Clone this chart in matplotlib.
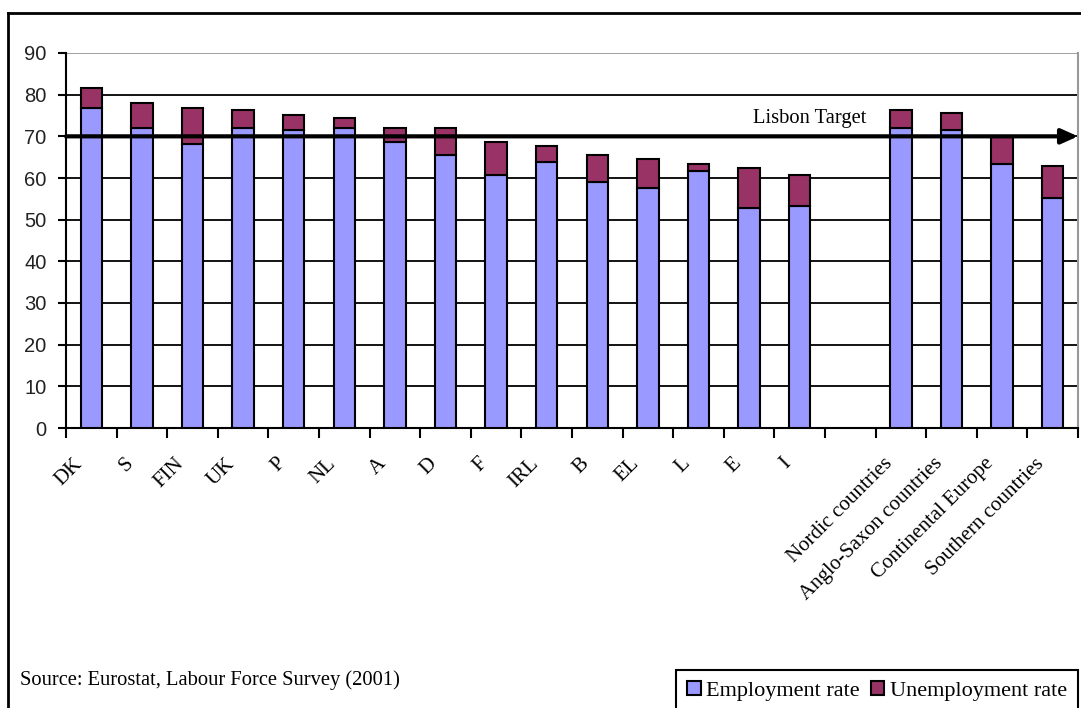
import matplotlib
matplotlib.use('Agg')

import numpy as np
import matplotlib.pyplot as plt
import matplotlib.transforms as mtransforms
from matplotlib.lines import Line2D
from matplotlib.patches import Patch

# Categories (empty slot between countries and country groups)
countries = ['DK', 'S', 'FIN', 'UK', 'P', 'NL', 'A', 'D', 'F', 'IRL',
             'B', 'EL', 'L', 'E', 'I']
groups = ['Nordic countries', 'Anglo-Saxon countries',
          'Continental Europe', 'Southern countries']

# Employment rate (%)
emp_countries = [76.8, 72.0, 68.1, 72.0, 71.5, 72.0, 68.6, 65.5, 60.7, 63.9,
                 59.0, 57.6, 61.8, 52.9, 53.3]
emp_groups = [72.0, 71.5, 63.4, 55.3]

# Employment + unemployment (top of stacked bar)
total_countries = [81.7, 78.0, 76.9, 76.3, 75.2, 74.3, 72.0, 71.9, 68.7, 67.7,
                   65.5, 64.5, 63.4, 62.3, 60.7]
total_groups = [76.3, 75.7, 69.9, 62.9]

lisbon_target = 70
yticks = [0, 10, 20, 30, 40, 50, 60, 70, 80, 90]

serif = 'Liberation Serif'
c_emp = '#9999FF'
c_unemp = '#993366'

labels = countries + [''] + groups
emp = np.array(emp_countries + [np.nan] + emp_groups)
total = np.array(total_countries + [np.nan] + total_groups)
unemp = total - emp
x = np.arange(len(labels))
mask = ~np.isnan(emp)

fig = plt.figure(figsize=(10.81, 7.08), dpi=100)
ax = fig.add_axes([66 / 1081, 1 - 428 / 708, (1078 - 66) / 1081, (428 - 53) / 708])

ax.bar(x[mask], emp[mask], width=0.42, color=c_emp, edgecolor='black',
       linewidth=1.5, zorder=3)
ax.bar(x[mask], unemp[mask], bottom=emp[mask], width=0.42, color=c_unemp,
       edgecolor='black', linewidth=1.5, zorder=3)

ax.set_xlim(-0.5, len(labels) - 0.5)
ax.set_ylim(0, 90)

# horizontal grid
for yv in yticks[1:-1]:
    ax.axhline(yv, color='black', linewidth=1.3, zorder=1)
ax.axhline(90, color='#999999', linewidth=1.3, zorder=1)

ax.spines['top'].set_visible(False)
ax.spines['right'].set_color('#999999')
ax.spines['right'].set_linewidth(1.5)
ax.spines['left'].set_linewidth(1.5)
ax.spines['bottom'].set_linewidth(1.5)

ax.set_yticks(yticks)
ax.set_yticklabels([str(v) for v in yticks], fontsize=14.5,
                   family='Liberation Sans', color='#222222')
ax.tick_params(axis='y', length=6, width=1.5, pad=8)

# tick marks between categories, labels at centers
ax.set_xticks(np.arange(-0.5, len(labels)), minor=False)
ax.set_xticklabels([])
ax.tick_params(axis='x', which='major', length=7, width=1.5)
ax.set_xticks(x, minor=True)
ax.set_xticklabels(labels, minor=True, rotation=45, ha='right', va='top',
                   rotation_mode='anchor', fontsize=15, family=serif)
ax.tick_params(axis='x', which='minor', length=0, pad=16)
shift = mtransforms.ScaledTranslation(-18 / 100, -4 / 100, fig.dpi_scale_trans)
for lab in ax.get_xticklabels(minor=True):
    lab.set_transform(lab.get_transform() + shift)

# Lisbon target arrow
ax.annotate('', xy=(len(labels) - 0.5, lisbon_target),
            xytext=(-0.5, lisbon_target),
            arrowprops=dict(arrowstyle='-|>,head_length=1.0,head_width=0.45',
                            color='black', lw=3, shrinkA=0, shrinkB=0),
            zorder=5, annotation_clip=False)
ax.text(14.2, 74.4, 'Lisbon Target', fontsize=14.8, family=serif,
        ha='center', va='center', zorder=6)

# figure frame (left and top)
fig.add_artist(Line2D([8 / 1081, 8 / 1081], [0, 1 - 13 / 708],
                      transform=fig.transFigure, color='black', lw=2))
fig.add_artist(Line2D([8 / 1081, 1], [1 - 13 / 708, 1 - 13 / 708],
                      transform=fig.transFigure, color='black', lw=2))

fig.text(20 / 1081, 1 - 680 / 708, 'Source: Eurostat, Labour Force Survey (2001)',
         fontsize=14.8, family=serif, va='center', ha='left')

handles = [Patch(facecolor=c_emp, edgecolor='black', linewidth=1.5),
           Patch(facecolor=c_unemp, edgecolor='black', linewidth=1.5)]
leg = fig.legend(handles, ['Employment rate', 'Unemployment rate'],
                 loc='lower right', bbox_to_anchor=(1078 / 1081, -0.006),
                 ncol=2, fancybox=False, framealpha=1, edgecolor='black',
                 prop={'family': serif, 'size': 16}, handlelength=0.6,
                 handleheight=0.6, handletextpad=0.25, columnspacing=0.5,
                 borderpad=0.5, borderaxespad=0)
leg.get_frame().set_linewidth(1.5)

fig.savefig('out.png', dpi=100)
